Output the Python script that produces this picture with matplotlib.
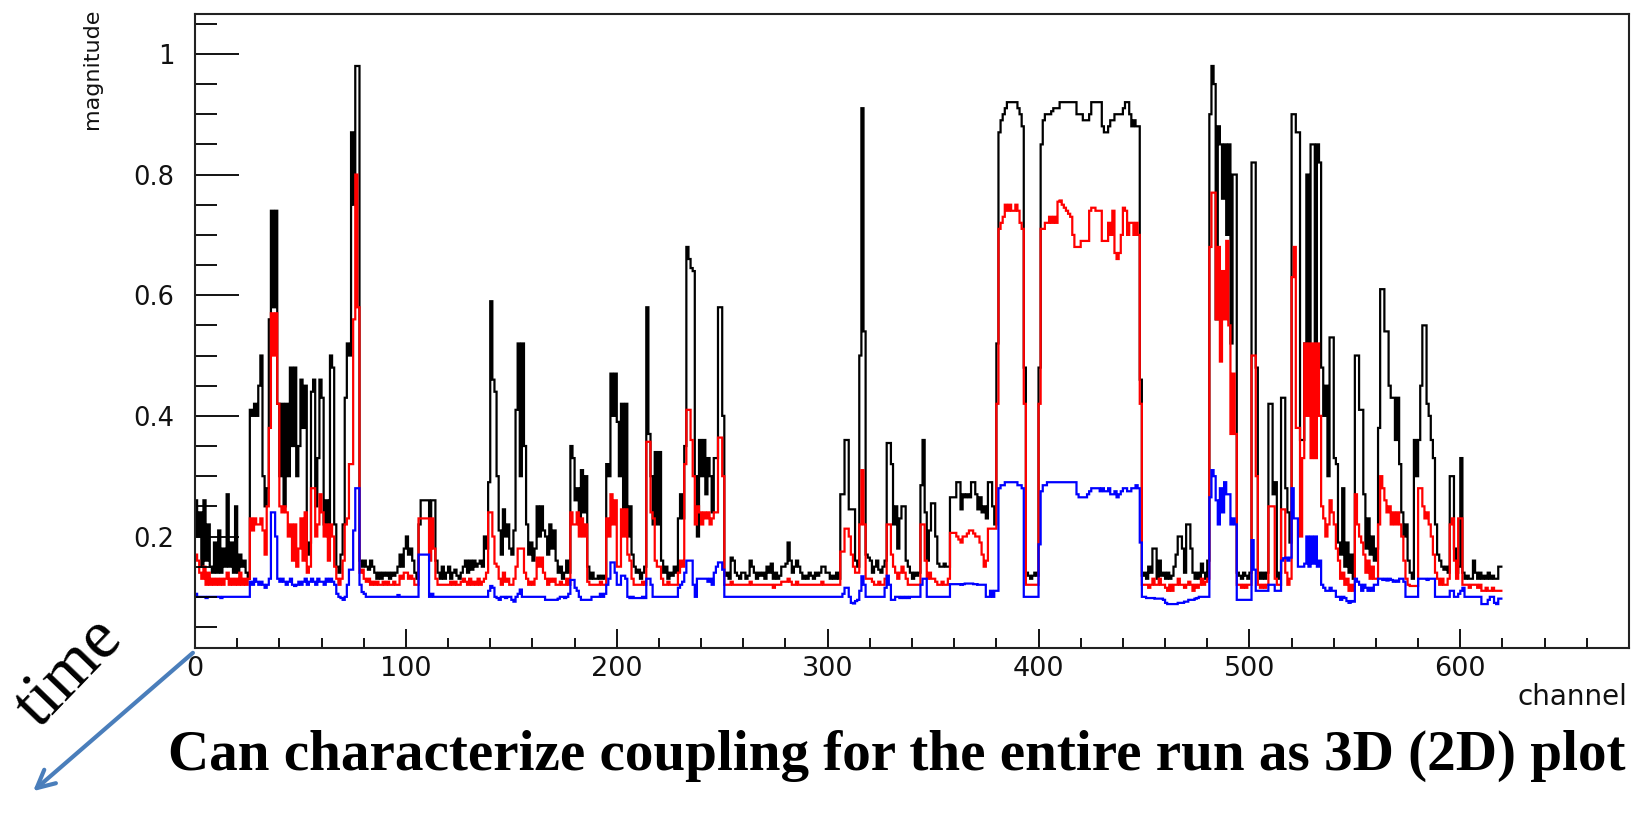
import numpy as np
import matplotlib
matplotlib.use("Agg")
import matplotlib.pyplot as plt
from matplotlib.patches import FancyArrowPatch
from matplotlib.ticker import MultipleLocator, FixedLocator

# ---------------- data (per channel) ----------------
black = [
0.26,0.20,0.24,0.15,0.26,0.16,0.22,0.15,0.14,0.19,
0.14,0.21,0.14,0.18,0.15,0.27,0.15,0.19,0.14,0.25,
0.14,0.17,0.15,0.16,0.14,0.13,0.41,0.40,0.42,0.40,
0.45,0.50,0.30,0.25,0.28,0.56,0.74,0.58,0.74,0.42,
0.30,0.42,0.25,0.42,0.30,0.48,0.35,0.48,0.30,0.35,
0.46,0.38,0.45,0.17,0.19,0.44,0.46,0.25,0.33,0.46,
0.43,0.22,0.26,0.20,0.50,0.48,0.22,0.15,0.14,0.17,
0.22,0.43,0.52,0.50,0.87,0.75,0.98,0.98,0.16,0.15,
0.16,0.15,0.145,0.16,0.15,0.14,0.13,0.14,0.13,0.14,
0.135,0.14,0.13,0.14,0.135,0.14,0.15,0.17,0.15,0.18,
0.20,0.17,0.18,0.16,0.14,0.13,0.22,0.26,0.26,0.26,
0.26,0.18,0.26,0.26,0.16,0.14,0.13,0.15,0.13,0.14,
0.15,0.13,0.14,0.145,0.135,0.13,0.14,0.15,0.16,0.14,
0.16,0.145,0.16,0.15,0.155,0.16,0.15,0.20,0.18,0.29,
0.59,0.46,0.44,0.30,0.21,0.17,0.245,0.20,0.22,0.18,
0.17,0.21,0.41,0.52,0.30,0.52,0.35,0.22,0.17,0.19,
0.16,0.18,0.25,0.20,0.25,0.21,0.20,0.17,0.22,0.18,
0.21,0.16,0.14,0.15,0.13,0.14,0.16,0.14,0.35,0.33,
0.26,0.28,0.22,0.31,0.24,0.30,0.15,0.13,0.14,0.13,
0.13,0.135,0.13,0.135,0.13,0.32,0.30,0.47,0.40,0.47,
0.39,0.30,0.42,0.24,0.42,0.20,0.25,0.17,0.15,0.14,
0.145,0.13,0.14,0.15,0.58,0.37,0.30,0.22,0.34,0.22,
0.34,0.16,0.14,0.15,0.13,0.14,0.135,0.15,0.14,0.23,
0.27,0.23,0.35,0.68,0.66,0.645,0.64,0.30,0.20,0.36,
0.30,0.36,0.27,0.33,0.30,0.24,0.33,0.33,0.58,0.58,
0.40,0.135,0.14,0.13,0.165,0.16,0.14,0.135,0.13,0.14,
0.14,0.13,0.135,0.16,0.15,0.14,0.13,0.14,0.135,0.14,
0.13,0.15,0.14,0.155,0.13,0.14,0.13,0.135,0.15,0.15,
0.155,0.19,0.16,0.14,0.15,0.16,0.15,0.14,0.13,0.135,
0.13,0.14,0.135,0.13,0.14,0.135,0.14,0.15,0.15,0.14,
0.14,0.13,0.135,0.13,0.14,0.13,0.27,0.27,0.36,0.36,
0.245,0.245,0.245,0.16,0.15,0.50,0.91,0.54,0.17,0.165,
0.16,0.14,0.15,0.16,0.145,0.14,0.15,0.16,0.355,0.355,
0.32,0.22,0.25,0.18,0.23,0.25,0.25,0.16,0.15,0.14,
0.13,0.14,0.135,0.14,0.285,0.36,0.24,0.16,0.21,0.255,
0.255,0.20,0.155,0.15,0.15,0.155,0.15,0.15,0.265,0.265,
0.265,0.29,0.29,0.245,0.27,0.265,0.27,0.265,0.29,0.29,
0.27,0.245,0.265,0.24,0.25,0.23,0.29,0.29,0.25,0.22,
0.52,0.87,0.89,0.90,0.91,0.92,0.92,0.92,0.92,0.92,
0.91,0.90,0.88,0.48,0.14,0.135,0.13,0.135,0.14,0.135,
0.48,0.85,0.89,0.90,0.90,0.90,0.905,0.91,0.91,0.91,
0.92,0.92,0.92,0.92,0.92,0.92,0.92,0.92,0.90,0.90,
0.90,0.89,0.89,0.89,0.90,0.92,0.92,0.92,0.92,0.92,
0.88,0.87,0.87,0.88,0.89,0.89,0.90,0.90,0.90,0.90,
0.91,0.92,0.92,0.90,0.88,0.89,0.88,0.88,0.46,0.135,
0.14,0.13,0.15,0.14,0.18,0.18,0.13,0.16,0.135,0.14,
0.13,0.14,0.13,0.135,0.15,0.17,0.20,0.20,0.18,0.14,
0.22,0.22,0.18,0.14,0.13,0.14,0.13,0.155,0.14,0.13,
0.16,0.90,0.98,0.95,0.56,0.88,0.85,0.76,0.85,0.70,
0.85,0.52,0.80,0.80,0.14,0.135,0.13,0.14,0.135,0.13,
0.14,0.82,0.82,0.48,0.14,0.13,0.14,0.13,0.14,0.42,
0.42,0.27,0.29,0.13,0.14,0.43,0.43,0.28,0.24,0.19,
0.90,0.90,0.87,0.87,0.36,0.36,0.52,0.80,0.46,0.85,
0.85,0.50,0.85,0.82,0.48,0.40,0.45,0.30,0.53,0.53,
0.33,0.32,0.19,0.17,0.28,0.15,0.19,0.14,0.17,0.13,
0.50,0.50,0.41,0.41,0.27,0.18,0.23,0.17,0.20,0.16,
0.18,0.38,0.61,0.61,0.54,0.54,0.45,0.43,0.43,0.36,
0.43,0.32,0.24,0.20,0.22,0.16,0.14,0.13,0.36,0.30,
0.36,0.45,0.55,0.55,0.42,0.40,0.36,0.33,0.22,0.17,
0.16,0.15,0.145,0.15,0.14,0.30,0.30,0.18,0.14,0.15,
0.33,0.14,0.13,0.135,0.13,0.13,0.16,0.14,0.13,0.14,
0.13,0.135,0.13,0.14,0.13,0.135,0.13,0.13,0.15,0.15,
]

red = [
0.17,0.16,0.14,0.13,0.15,0.12,0.14,0.12,0.13,0.12,
0.13,0.12,0.13,0.12,0.13,0.14,0.12,0.13,0.12,0.13,
0.12,0.14,0.12,0.13,0.12,0.13,0.23,0.21,0.23,0.22,
0.22,0.23,0.21,0.17,0.25,0.38,0.57,0.50,0.57,0.42,
0.25,0.24,0.25,0.24,0.20,0.22,0.16,0.22,0.15,0.18,
0.23,0.16,0.24,0.14,0.15,0.28,0.28,0.20,0.22,0.27,
0.24,0.20,0.22,0.16,0.22,0.20,0.15,0.13,0.12,0.13,
0.16,0.22,0.23,0.32,0.32,0.56,0.80,0.58,0.14,0.145,
0.13,0.125,0.13,0.12,0.125,0.12,0.125,0.12,0.12,0.125,
0.12,0.125,0.12,0.12,0.125,0.12,0.12,0.135,0.13,0.14,
0.14,0.13,0.135,0.13,0.12,0.12,0.23,0.23,0.23,0.23,
0.23,0.16,0.23,0.18,0.13,0.12,0.12,0.12,0.12,0.12,
0.12,0.125,0.12,0.125,0.12,0.12,0.125,0.13,0.125,0.12,
0.13,0.12,0.125,0.12,0.13,0.12,0.125,0.13,0.14,0.24,
0.24,0.20,0.155,0.15,0.13,0.12,0.14,0.125,0.13,0.12,
0.12,0.13,0.15,0.18,0.18,0.18,0.14,0.13,0.12,0.125,
0.12,0.13,0.165,0.15,0.165,0.14,0.13,0.12,0.13,0.125,
0.13,0.12,0.12,0.125,0.12,0.12,0.13,0.12,0.24,0.22,
0.22,0.24,0.20,0.23,0.20,0.22,0.125,0.12,0.12,0.12,
0.12,0.12,0.125,0.12,0.12,0.23,0.20,0.27,0.22,0.26,
0.15,0.15,0.245,0.20,0.245,0.17,0.16,0.13,0.12,0.12,
0.12,0.12,0.125,0.12,0.357,0.357,0.24,0.23,0.16,0.15,
0.15,0.13,0.12,0.12,0.125,0.12,0.12,0.12,0.12,0.14,
0.16,0.15,0.32,0.41,0.41,0.36,0.30,0.22,0.25,0.24,
0.22,0.24,0.23,0.24,0.22,0.23,0.24,0.24,0.364,0.364,
0.30,0.12,0.12,0.12,0.125,0.12,0.12,0.12,0.12,0.12,
0.12,0.12,0.12,0.125,0.12,0.12,0.12,0.12,0.12,0.12,
0.12,0.12,0.12,0.12,0.115,0.12,0.12,0.12,0.125,0.125,
0.125,0.13,0.125,0.12,0.12,0.125,0.12,0.12,0.12,0.12,
0.12,0.12,0.12,0.12,0.12,0.12,0.12,0.125,0.12,0.12,
0.12,0.12,0.12,0.12,0.12,0.12,0.175,0.175,0.213,0.213,
0.20,0.17,0.15,0.14,0.14,0.22,0.31,0.22,0.13,0.13,
0.13,0.125,0.12,0.12,0.125,0.12,0.12,0.13,0.22,0.22,
0.17,0.15,0.14,0.13,0.14,0.15,0.14,0.13,0.12,0.12,
0.12,0.12,0.12,0.12,0.22,0.22,0.16,0.13,0.14,0.13,
0.13,0.125,0.12,0.12,0.125,0.12,0.12,0.13,0.206,0.206,
0.206,0.20,0.195,0.19,0.20,0.20,0.205,0.21,0.21,0.205,
0.20,0.20,0.19,0.17,0.15,0.16,0.213,0.213,0.213,0.213,
0.42,0.71,0.72,0.73,0.75,0.74,0.75,0.74,0.74,0.75,
0.74,0.72,0.71,0.42,0.12,0.12,0.12,0.12,0.12,0.12,
0.42,0.71,0.71,0.72,0.72,0.73,0.72,0.73,0.72,0.755,
0.757,0.75,0.745,0.74,0.735,0.73,0.70,0.68,0.68,0.68,
0.69,0.69,0.69,0.69,0.74,0.745,0.745,0.74,0.74,0.74,
0.69,0.69,0.69,0.72,0.70,0.74,0.67,0.66,0.67,0.70,
0.745,0.74,0.70,0.72,0.72,0.70,0.72,0.70,0.42,0.12,
0.12,0.12,0.115,0.12,0.13,0.12,0.12,0.13,0.12,0.12,
0.115,0.11,0.12,0.11,0.12,0.12,0.13,0.12,0.12,0.115,
0.12,0.125,0.12,0.11,0.12,0.115,0.12,0.13,0.12,0.125,
0.13,0.68,0.77,0.77,0.56,0.68,0.49,0.64,0.56,0.69,
0.55,0.37,0.47,0.37,0.12,0.12,0.115,0.12,0.115,0.12,
0.12,0.50,0.50,0.30,0.12,0.115,0.12,0.115,0.12,0.25,
0.25,0.25,0.13,0.12,0.12,0.245,0.245,0.14,0.12,0.13,
0.63,0.68,0.38,0.38,0.20,0.33,0.52,0.40,0.52,0.33,
0.52,0.33,0.52,0.40,0.25,0.23,0.20,0.22,0.26,0.24,
0.22,0.18,0.16,0.13,0.14,0.12,0.13,0.11,0.12,0.11,
0.27,0.22,0.20,0.19,0.17,0.14,0.16,0.13,0.15,0.13,
0.13,0.22,0.30,0.28,0.26,0.24,0.25,0.22,0.24,0.22,
0.24,0.22,0.20,0.16,0.13,0.12,0.118,0.118,0.118,0.118,
0.28,0.28,0.25,0.23,0.24,0.22,0.20,0.17,0.14,0.13,
0.12,0.13,0.12,0.12,0.13,0.22,0.23,0.16,0.13,0.23,
0.23,0.12,0.12,0.12,0.115,0.12,0.12,0.12,0.115,0.12,
0.11,0.11,0.115,0.11,0.11,0.115,0.11,0.11,0.11,0.11,
]

blue = [
0.105,0.10,0.10,0.10,0.10,0.098,0.10,0.10,0.10,0.10,
0.10,0.10,0.098,0.10,0.10,0.10,0.10,0.10,0.10,0.10,
0.10,0.10,0.10,0.10,0.10,0.10,0.125,0.12,0.13,0.125,
0.12,0.125,0.12,0.115,0.12,0.13,0.24,0.24,0.20,0.13,
0.125,0.13,0.125,0.12,0.125,0.13,0.12,0.118,0.12,0.125,
0.12,0.125,0.13,0.12,0.125,0.13,0.125,0.12,0.13,0.125,
0.125,0.12,0.13,0.125,0.13,0.125,0.12,0.105,0.10,0.098,
0.095,0.10,0.12,0.145,0.145,0.21,0.28,0.28,0.12,0.108,
0.105,0.10,0.10,0.10,0.10,0.10,0.10,0.10,0.10,0.10,
0.10,0.10,0.10,0.10,0.10,0.10,0.103,0.10,0.10,0.10,
0.10,0.10,0.10,0.10,0.10,0.10,0.17,0.17,0.17,0.17,
0.17,0.10,0.105,0.10,0.10,0.10,0.10,0.10,0.10,0.10,
0.10,0.10,0.10,0.10,0.10,0.10,0.10,0.10,0.10,0.10,
0.10,0.10,0.10,0.10,0.10,0.10,0.10,0.10,0.10,0.11,
0.118,0.115,0.10,0.098,0.095,0.10,0.10,0.098,0.10,0.10,
0.095,0.092,0.10,0.105,0.112,0.10,0.10,0.10,0.10,0.10,
0.10,0.10,0.10,0.10,0.10,0.10,0.095,0.095,0.095,0.095,
0.095,0.095,0.097,0.10,0.10,0.098,0.10,0.105,0.128,0.128,
0.115,0.11,0.10,0.095,0.095,0.095,0.095,0.095,0.10,0.10,
0.10,0.10,0.105,0.10,0.105,0.12,0.13,0.157,0.157,0.14,
0.12,0.12,0.135,0.135,0.13,0.10,0.098,0.10,0.098,0.098,
0.098,0.098,0.10,0.098,0.13,0.13,0.12,0.10,0.10,0.10,
0.10,0.10,0.10,0.10,0.10,0.10,0.10,0.10,0.10,0.115,
0.12,0.125,0.14,0.16,0.16,0.16,0.12,0.10,0.13,0.13,
0.13,0.13,0.13,0.125,0.13,0.12,0.14,0.15,0.157,0.157,
0.145,0.10,0.10,0.10,0.10,0.10,0.10,0.10,0.10,0.10,
0.10,0.10,0.10,0.10,0.10,0.10,0.10,0.10,0.10,0.10,
0.10,0.10,0.10,0.10,0.10,0.10,0.10,0.10,0.10,0.10,
0.10,0.10,0.10,0.10,0.10,0.10,0.10,0.10,0.10,0.10,
0.10,0.10,0.10,0.10,0.10,0.10,0.10,0.10,0.10,0.10,
0.10,0.10,0.10,0.10,0.10,0.10,0.10,0.105,0.115,0.115,
0.10,0.09,0.089,0.093,0.095,0.11,0.134,0.12,0.10,0.10,
0.10,0.10,0.10,0.10,0.10,0.10,0.10,0.115,0.135,0.12,
0.095,0.095,0.10,0.10,0.098,0.10,0.098,0.10,0.098,0.10,
0.10,0.10,0.10,0.10,0.12,0.13,0.13,0.10,0.10,0.10,
0.10,0.10,0.10,0.10,0.10,0.10,0.10,0.10,0.121,0.121,
0.121,0.121,0.121,0.12,0.121,0.122,0.122,0.122,0.122,0.121,
0.121,0.12,0.12,0.12,0.12,0.10,0.10,0.11,0.10,0.11,
0.11,0.28,0.285,0.285,0.29,0.29,0.29,0.29,0.29,0.29,
0.285,0.285,0.28,0.10,0.10,0.10,0.10,0.10,0.10,0.10,
0.187,0.275,0.285,0.285,0.29,0.29,0.29,0.29,0.29,0.29,
0.29,0.29,0.29,0.29,0.29,0.29,0.29,0.29,0.27,0.265,
0.265,0.265,0.265,0.27,0.275,0.28,0.28,0.28,0.28,0.275,
0.28,0.275,0.275,0.28,0.27,0.27,0.275,0.265,0.27,0.275,
0.28,0.28,0.275,0.275,0.28,0.28,0.285,0.28,0.19,0.10,
0.10,0.098,0.098,0.098,0.098,0.097,0.097,0.097,0.097,0.095,
0.09,0.088,0.088,0.088,0.088,0.088,0.09,0.09,0.09,0.092,
0.092,0.095,0.095,0.095,0.097,0.098,0.10,0.10,0.10,0.10,
0.10,0.265,0.31,0.30,0.26,0.22,0.28,0.24,0.29,0.27,
0.27,0.22,0.23,0.22,0.095,0.095,0.095,0.095,0.095,0.095,
0.095,0.194,0.145,0.11,0.11,0.11,0.11,0.11,0.11,0.12,
0.12,0.12,0.11,0.11,0.11,0.16,0.164,0.165,0.16,0.165,
0.28,0.23,0.23,0.15,0.15,0.15,0.155,0.20,0.15,0.20,
0.155,0.20,0.15,0.16,0.12,0.115,0.11,0.11,0.115,0.11,
0.11,0.10,0.10,0.095,0.10,0.098,0.093,0.09,0.093,0.092,
0.13,0.125,0.12,0.11,0.12,0.115,0.11,0.115,0.11,0.12,
0.12,0.13,0.13,0.128,0.13,0.127,0.13,0.128,0.125,0.127,
0.125,0.13,0.13,0.125,0.10,0.10,0.10,0.10,0.10,0.10,
0.13,0.13,0.13,0.13,0.128,0.13,0.13,0.13,0.10,0.10,
0.10,0.10,0.10,0.10,0.10,0.11,0.11,0.10,0.10,0.105,
0.11,0.115,0.10,0.10,0.10,0.10,0.10,0.10,0.10,0.10,
0.088,0.088,0.088,0.095,0.10,0.10,0.09,0.088,0.097,0.097,
]

x_ticks = [0, 100, 200, 300, 400, 500, 600]
x_tick_labels = ["0", "100", "200", "300", "400", "500", "600"]
y_ticks = [0.2, 0.4, 0.6, 0.8, 1.0]
y_tick_labels = ["0.2", "0.4", "0.6", "0.8", "1"]

# ---------------- figure ----------------
W, H = 1632, 826
fig = plt.figure(figsize=(W / 100, H / 100), dpi=100)
fig.patch.set_facecolor("white")

ax_l, ax_r, ax_t, ax_b = 195, 1629, 13.5, 647.5
ax = fig.add_axes([ax_l / W, 1 - ax_b / H, (ax_r - ax_l) / W, (ax_b - ax_t) / H])

edges = np.arange(len(black) + 1)
ax.stairs(black, edges, color="black", lw=1.6, baseline=None)
ax.stairs(red, edges, color="#ff0000", lw=1.6, baseline=None)
ax.stairs(blue, edges, color="#0000ff", lw=1.6, baseline=None)

ax.set_xlim(0, 680)
ax.set_ylim(0.016, 1.067)

ax.xaxis.set_major_locator(FixedLocator(x_ticks))
ax.set_xticklabels(x_tick_labels)
ax.xaxis.set_minor_locator(MultipleLocator(20))
ax.yaxis.set_major_locator(FixedLocator(y_ticks))
ax.set_yticklabels(y_tick_labels)
ax.yaxis.set_minor_locator(MultipleLocator(0.05))

for lab in ax.get_xticklabels():
    lab.set_fontfamily("DejaVu Sans")
    lab.set_fontsize(19.5)
    lab.set_color("#111111")
for lab in ax.get_yticklabels():
    lab.set_fontfamily("DejaVu Sans")
    lab.set_fontsize(18.5)
    lab.set_color("#111111")

ax.tick_params(axis="y", which="major", direction="in", length=31.5, width=1.3, pad=15)
ax.tick_params(axis="y", which="minor", direction="in", length=15.5, width=1.3)
ax.tick_params(axis="x", which="major", direction="in", length=13.5, width=1.3, pad=6)
ax.tick_params(axis="x", which="minor", direction="in", length=7, width=1.3)
for s in ax.spines.values():
    s.set_linewidth(1.5)
    s.set_color("#222222")

# axis titles (ROOT style)
fig.text(92 / W, 1 - 9 / H, "magnitude", rotation=90, ha="center", va="top",
         family="DejaVu Sans", fontsize=16, color="#111111")
fig.text(1627 / W, 1 - 697 / H, "channel", ha="right", va="center",
         family="DejaVu Sans", fontsize=20, color="#111111")

# bottom caption
cap = fig.text((167 + 1626) / 2 / W, 1 - 756 / H,
               "Can characterize coupling for the entire run as 3D (2D) plot",
               ha="center", va="center", family="Liberation Serif",
               weight="bold", fontsize=34, color="black")
fig.canvas.draw()
r = fig.canvas.get_renderer()
wpx = cap.get_window_extent(r).width
cap.set_fontsize(34 * 1459 / wpx)

# time arrow
arrow = FancyArrowPatch((195 / W, 1 - 651 / H), (31 / W, 1 - 793 / H),
                        transform=fig.transFigure, arrowstyle="->",
                        mutation_scale=32, lw=3.0, color="#4a7ebb")
fig.patches.append(arrow)
fig.text(70 / W, 1 - 674 / H, "time", rotation=46, ha="center", va="center",
         family="Liberation Serif", fontsize=50, color="black",
         rotation_mode="anchor")

fig.savefig("out.png", dpi=100, facecolor="white")
